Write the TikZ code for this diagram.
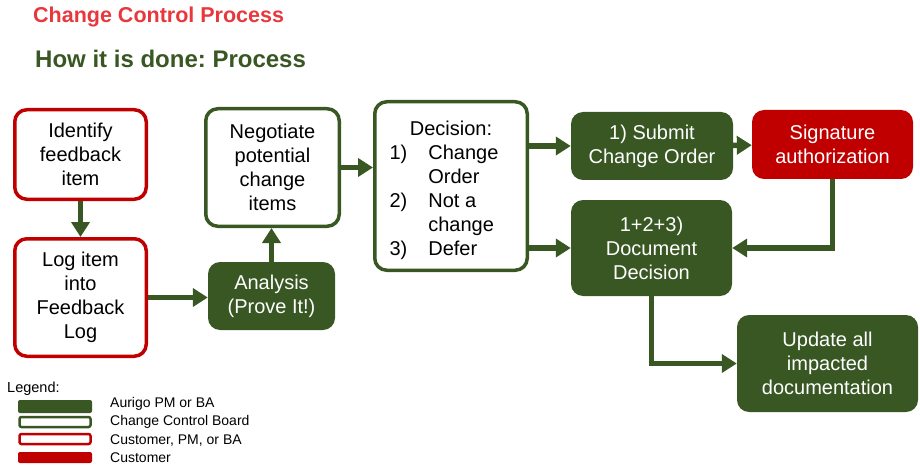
\documentclass[tikz,border=0pt]{standalone}
\usepackage{fontspec}
\setmainfont{Liberation Sans}
\usetikzlibrary{arrows.meta}
\definecolor{auggreen}{HTML}{385723}
\definecolor{custred}{HTML}{C00000}
\definecolor{titlered}{HTML}{E8383D}
\frenchspacing
\tikzset{
	procbox/.style={rectangle, rounded corners=12pt, align=center, inner sep=0pt,
		font=\fontsize{20}{24}\selectfont},
	custbox/.style={procbox, draw=custred, line width=3.5pt, fill=white},
	boardbox/.style={procbox, draw=auggreen, line width=3.5pt, fill=white},
	pmbox/.style={procbox, fill=auggreen, text=white},
	signbox/.style={procbox, fill=custred, text=white},
	flow/.style={draw=auggreen, line width=5.5pt, -{Triangle[width=18pt,length=15pt]}},
	legtext/.style={anchor=base west, inner sep=0pt, font=\fontsize{14}{17}\selectfont}
}
\begin{document}
\begin{tikzpicture}[x=1pt,y=-1pt]
	\useasboundingbox (0,0) rectangle (920,465);
	\node[anchor=base west, inner sep=0pt, text=titlered, font=\bfseries\fontsize{21.5}{26}\selectfont] (title) at (33,23) {Change Control Process};
	\node[anchor=base west, inner sep=0pt, text=auggreen, font=\bfseries\fontsize{24}{29}\selectfont] (subtitle) at (35,68) {How it is done: Process};

	\node[custbox, minimum width=131.5, minimum height=89.5] (ident) at (80.5,154.5) {Identify\\feedback\\item};
	\node[custbox, minimum width=131.5, minimum height=117.5] (logitem) at (80.5,297.5) {Log item\\into\\Feedback\\Log};
	\node[pmbox, minimum width=127, minimum height=68] (analysis) at (271.5,296) {Analysis\\(Prove It!)};
	\node[boardbox, minimum width=133.5, minimum height=117.5] (negot) at (272.5,167.5) {Negotiate\\potential\\change\\items};
	\node[boardbox, minimum width=152.5, minimum height=168.5] (decide) at (451,186) {\rule{0pt}{26pt}Decision:\\\hspace*{-14pt}\begin{tabular}[t]{@{}l@{\hspace{21pt}}l@{}}
			1) & Change\\ & Order\\ 2) & Not a\\ & change\\ 3) & Defer\end{tabular}};
	\node[pmbox, minimum width=162, minimum height=68] (submit) at (652,146) {1) Submit\\Change Order};
	\node[signbox, minimum width=161, minimum height=69] (sign) at (832.5,144.5) {Signature\\authorization};
	\node[pmbox, minimum width=161, minimum height=96] (docdec) at (651.5,248) {1+2+3)\\Document\\Decision};
	\node[pmbox, minimum width=181, minimum height=97] (update) at (827.5,363.5) {Update all\\impacted\\documentation};

	\draw[flow] (ident) -- (logitem);
	\draw[flow] (logitem) -- (logitem -| analysis.west);
	\draw[flow] (analysis) -- (analysis |- negot.south);
	\draw[flow] (negot) -- (negot -| decide.west);
	\draw[flow] (decide.east |- submit) -- (submit);
	\draw[flow] (decide.east |- docdec) -- (docdec);
	\draw[flow] (submit) -- (sign);
	\draw[flow] (sign.south) |- (docdec);
	\draw[flow] (docdec.south) |- (update);

	\node[legtext, font=\fontsize{14.5}{17}\selectfont] (legend) at (7,392) {Legend:};
	\fill[auggreen, rounded corners=2pt] (18,400) rectangle (92,413);
	\draw[auggreen, line width=2.5pt, fill=white, rounded corners=2pt] (19.5,417) rectangle (90.5,427);
	\draw[custred, line width=2.5pt, fill=white, rounded corners=2pt] (19.5,434) rectangle (90.5,444);
	\fill[custred, rounded corners=2pt] (18,452) rectangle (92,463);
	\node[legtext] (legpm) at (110,407) {Aurigo PM or BA};
	\node[legtext] (legboard) at (110,425.5) {Change Control Board};
	\node[legtext] (legcust) at (110,444) {Customer, PM, or BA};
	\node[legtext] (legsign) at (110,462) {Customer};
\end{tikzpicture}
\end{document}
